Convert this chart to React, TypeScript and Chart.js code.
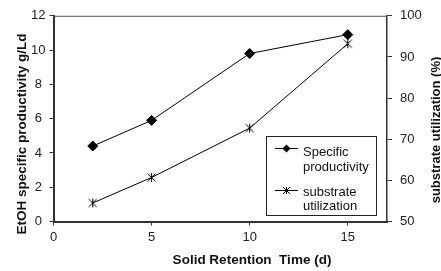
import React, { useEffect, useRef } from "react";
import { Chart, registerables } from "chart.js";

Chart.register(...registerables);

const retentionDays = [2, 5, 10, 15];
const specificProductivity = [4.4, 5.9, 9.8, 10.9];
const substrateUtilization = [54.5, 60.7, 72.7, 93.2];
const xTitle = "Solid Retention  Time (d)";
const yTitle = "EtOH specific productivity g/Ld";
const y1Title = "substrate utilization (%)";
const legendProd = ["Specific", "productivity"];
const legendUtil = ["substrate", "utilization"];

const FONT = "'Liberation Sans', Arial, sans-serif";

function makeAsterisk(): HTMLCanvasElement {
  const c = document.createElement("canvas");
  c.width = 11;
  c.height = 11;
  const g = c.getContext("2d")!;
  g.strokeStyle = "#000";
  g.lineWidth = 1;
  const cx = 5.5, cy = 5.5, r = 4;
  g.beginPath();
  g.moveTo(cx - r, cy - r);
  g.lineTo(cx + r, cy + r);
  g.moveTo(cx + r, cy - r);
  g.lineTo(cx - r, cy + r);
  g.moveTo(cx, cy - r - 0.5);
  g.lineTo(cx, cy + r + 0.5);
  g.stroke();
  return c;
}

const customPlugin = {
  id: "custom",
  beforeDatasetsDraw(chart: any) {
    const { ctx, chartArea } = chart;
    ctx.save();
    ctx.strokeStyle = "#555";
    ctx.lineWidth = 1;
    ctx.beginPath();
    ctx.moveTo(chartArea.left, chartArea.top + 0.5);
    ctx.lineTo(chartArea.right, chartArea.top + 0.5);
    ctx.stroke();
    ctx.restore();
  },
  afterDraw(chart: any) {
    const { ctx } = chart;
    ctx.save();
    ctx.fillStyle = "#111";
    ctx.textAlign = "center";
    ctx.textBaseline = "middle";
    ctx.font = `bold 13.5px ${FONT}`;
    ctx.fillText(xTitle, 252, 260);
    ctx.save();
    ctx.translate(22, 134);
    ctx.rotate(-Math.PI / 2);
    ctx.fillText(yTitle, 0, 0);
    ctx.restore();
    ctx.font = `bold 13px ${FONT}`;
    ctx.save();
    ctx.translate(436, 130);
    ctx.rotate(-Math.PI / 2);
    ctx.fillText(y1Title, 0, 0);
    ctx.restore();

    const bx = 266.5, by = 136.5, bw = 110, bh = 79;
    ctx.fillStyle = "#fff";
    ctx.fillRect(bx, by, bw, bh);
    ctx.strokeStyle = "#222";
    ctx.lineWidth = 1;
    ctx.strokeRect(bx, by, bw, bh);

    const drawSample = (y: number, style: string) => {
      ctx.strokeStyle = "#000";
      ctx.lineWidth = 1;
      ctx.beginPath();
      ctx.moveTo(275, y + 0.5);
      ctx.lineTo(298, y + 0.5);
      ctx.stroke();
      const cx = 286.5, cy = y + 0.5;
      if (style === "diamond") {
        const r = 4;
        ctx.fillStyle = "#000";
        ctx.beginPath();
        ctx.moveTo(cx, cy - r);
        ctx.lineTo(cx + r, cy);
        ctx.lineTo(cx, cy + r);
        ctx.lineTo(cx - r, cy);
        ctx.closePath();
        ctx.fill();
      } else {
        const r = 3.5;
        ctx.beginPath();
        ctx.moveTo(cx - r, cy - r);
        ctx.lineTo(cx + r, cy + r);
        ctx.moveTo(cx + r, cy - r);
        ctx.lineTo(cx - r, cy + r);
        ctx.moveTo(cx, cy - r);
        ctx.lineTo(cx, cy + r);
        ctx.stroke();
      }
    };
    drawSample(148, "diamond");
    drawSample(190, "star");

    ctx.fillStyle = "#111";
    ctx.textAlign = "left";
    ctx.textBaseline = "middle";
    ctx.font = `13px ${FONT}`;
    ctx.fillText(legendProd[0], 303, 152);
    ctx.fillText(legendProd[1], 303, 167);
    ctx.fillText(legendUtil[0], 303, 192);
    ctx.fillText(legendUtil[1], 303, 206);
    ctx.restore();
  },
};

export default function App() {
  const ref = useRef<HTMLCanvasElement>(null);
  useEffect(() => {
    document.body.style.margin = "0";
    const asterisk = makeAsterisk();
    const chart = new Chart(ref.current!, {
      type: "line",
      data: {
        datasets: [
          {
            label: "Specific productivity",
            data: retentionDays.map((x, i) => ({ x, y: specificProductivity[i] })),
            yAxisID: "y",
            borderColor: "#000",
            backgroundColor: "#000",
            borderWidth: 1,
            pointStyle: "rectRot",
            pointRadius: 5,
            pointBorderWidth: 1,
          },
          {
            label: "substrate utilization",
            data: retentionDays.map((x, i) => ({ x, y: substrateUtilization[i] })),
            yAxisID: "y1",
            borderColor: "#000",
            backgroundColor: "#000",
            borderWidth: 1,
            pointStyle: asterisk as any,
            pointRadius: 5,
            pointBorderWidth: 1,
          },
        ],
      },
      options: {
        animation: false,
        responsive: true,
        maintainAspectRatio: false,
        layout: { padding: { top: 12.5, left: 0, right: 0, bottom: 0 } },
        plugins: { legend: { display: false }, tooltip: { enabled: false } },
        scales: {
          x: {
            type: "linear",
            min: 0,
            max: 17,
            afterFit: (s: any) => { s.height = 49.5; },
            border: { display: true, color: "#333", width: 2 },
            grid: { display: true, drawOnChartArea: false, drawTicks: true, tickLength: 4, color: "#333", lineWidth: 1 },
            ticks: { stepSize: 5, includeBounds: false, color: "#222", font: { family: FONT, size: 13 }, padding: 4, maxRotation: 0 },
          },
          y: {
            position: "left",
            min: 0,
            max: 12,
            afterFit: (s: any) => { s.width = 53.5; },
            border: { display: true, color: "#333", width: 2 },
            grid: { display: true, drawOnChartArea: false, drawTicks: true, tickLength: 4, color: "#333", lineWidth: 1 },
            ticks: { stepSize: 2, crossAlign: "center", color: "#222", font: { family: FONT, size: 13 }, padding: 4 },
          },
          y1: {
            position: "right",
            min: 50,
            max: 100,
            afterFit: (s: any) => { s.width = 54; },
            border: { display: true, color: "#333", width: 1.5 },
            grid: { display: true, drawOnChartArea: false, drawTicks: true, tickLength: 5, color: "#333", lineWidth: 1 },
            ticks: { stepSize: 10, color: "#222", font: { family: FONT, size: 13 }, padding: 8 },
          },
        },
      },
      plugins: [customPlugin],
    });
    return () => chart.destroy();
  }, []);
  return (
    <div style={{ width: 441, height: 271, position: "relative" }}>
      <canvas ref={ref} />
    </div>
  );
}
